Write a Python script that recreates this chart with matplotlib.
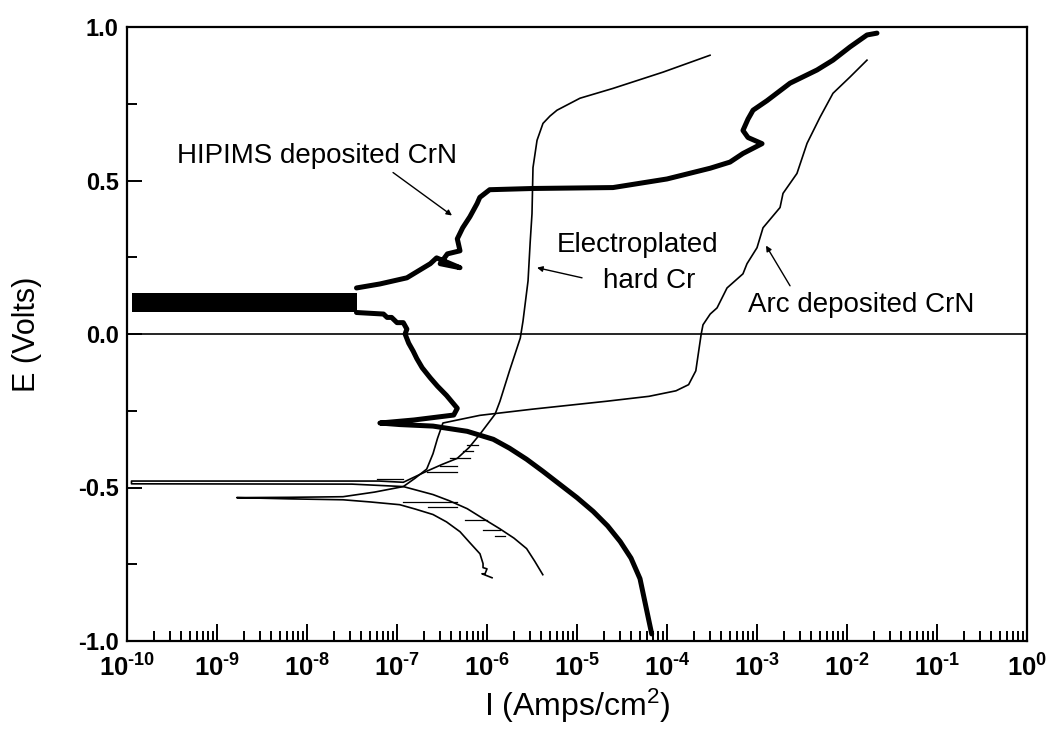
import matplotlib
matplotlib.use('Agg')
import matplotlib.pyplot as plt
import numpy as np
from matplotlib.ticker import FixedLocator, LogLocator, FuncFormatter, NullFormatter

plt.rcParams['font.family'] = ['Liberation Sans', 'DejaVu Sans']
plt.rcParams['mathtext.fontset'] = 'custom'
plt.rcParams['mathtext.rm'] = 'Liberation Sans:bold'
plt.rcParams['mathtext.sf'] = 'Liberation Sans'
plt.rcParams['mathtext.default'] = 'rm'
plt.rcParams['axes.unicode_minus'] = False

# polarisation curves, current density given as log10(A/cm2), potential in V
hipims_low_logi = [-4.17, -4.24, -4.30, -4.40, -4.52, -4.66, -4.82, -5.0, -5.19, -5.38,
                   -5.56, -5.75, -5.93, -6.22, -6.6, -6.97, -7.19, -6.81, -6.37, -6.33,
                   -6.45, -6.55, -6.63, -6.72, -6.78, -6.82, -6.87, -6.91, -6.89, -6.93,
                   -7.0, -7.06, -7.11, -7.15, -7.45]
hipims_low_e = [-0.977, -0.88, -0.797, -0.73, -0.676, -0.625, -0.578, -0.533, -0.49, -0.447,
                -0.408, -0.372, -0.343, -0.317, -0.30, -0.295, -0.29, -0.28, -0.264, -0.242,
                -0.2, -0.17, -0.143, -0.11, -0.08, -0.056, -0.03, 0.0, 0.016, 0.037,
                0.037, 0.054, 0.054, 0.065, 0.07]

hipims_high_logi = [-7.45, -7.19, -6.89, -6.63, -6.56, -6.3, -6.52, -6.44, -6.3, -6.33,
                    -6.27, -6.19, -6.11, -6.08, -5.97, -5.49, -4.6, -4.0, -3.52, -3.3,
                    -3.156, -2.944, -3.1, -3.156, -3.1, -3.044, -2.889, -2.633, -2.333,
                    -2.156, -1.967, -1.778, -1.667]
hipims_high_e = [0.150, 0.163, 0.183, 0.229, 0.248, 0.216, 0.229, 0.261, 0.271, 0.31,
                 0.346, 0.382, 0.425, 0.445, 0.47, 0.474, 0.477, 0.505, 0.54, 0.56,
                 0.588, 0.62, 0.64, 0.663, 0.70, 0.729, 0.76, 0.817, 0.86,
                 0.892, 0.935, 0.974, 0.98]

# noisy region near open circuit for the HIPIMS film
hipims_band_logi = [-9.94, -7.45]
hipims_band_lo = [0.073, 0.073]
hipims_band_hi = [0.135, 0.135]

cr_logi = [-5.38, -5.47, -5.56, -5.7, -5.86, -6.05, -6.22, -6.42, -6.6, -6.93, -7.5,
           -9.95, -9.95, -7.2, -6.93, -6.67, -6.5, -6.33, -6.2, -6.08, -5.91, -5.856,
           -5.75, -5.63, -5.6, -5.544, -5.52, -5.5, -5.489, -5.444, -5.378, -5.3,
           -5.222, -4.967, -4.6, -4.044, -3.522]
cr_e = [-0.784, -0.74, -0.699, -0.665, -0.634, -0.600, -0.569, -0.543, -0.523, -0.497, -0.489,
        -0.488, -0.479, -0.479, -0.483, -0.447, -0.425, -0.405, -0.37, -0.327, -0.261, -0.219,
        -0.12, -0.013, 0.042, 0.173, 0.3, 0.392, 0.542, 0.631, 0.686, 0.71,
        0.729, 0.768, 0.80, 0.853, 0.908]

# short horizontal noise strokes on the hard Cr curve: E, start, end
cr_noise_e = [-0.471, -0.448, -0.431, -0.405, -0.382, -0.36, -0.546, -0.565, -0.605, -0.637, -0.657]
cr_noise_start = [-7.22, -6.67, -6.52, -6.41, -6.27, -6.22, -6.93, -6.66, -6.24, -6.04, -5.91]
cr_noise_end = [-6.93, -6.33, -6.33, -6.19, -6.16, -6.10, -6.33, -6.33, -6.0, -5.86, -5.8]

arc_logi = [-5.944, -6.056, -6.022, -6.0, -6.044, -6.044, -6.078, -6.19, -6.3, -6.45, -6.6,
            -6.8, -6.97, -7.3, -7.6, -8.2, -8.78, -8.2, -7.6, -7.25, -6.93, -6.8, -6.67,
            -6.6, -6.55, -6.49, -6.08, -5.5, -4.67, -4.2, -3.9, -3.76, -3.68, -3.65, -3.62,
            -3.6, -3.52, -3.444, -3.333, -3.156, -3.111, -3.0, -2.933, -2.744, -2.711,
            -2.556, -2.444, -2.3, -2.156, -1.967, -1.778]
arc_e = [-0.794, -0.781, -0.781, -0.765, -0.761, -0.748, -0.716, -0.68, -0.644, -0.612, -0.588,
         -0.57, -0.556, -0.547, -0.54, -0.537, -0.533, -0.532, -0.53, -0.515, -0.497, -0.47, -0.44,
         -0.39, -0.34, -0.29, -0.265, -0.245, -0.219, -0.203, -0.185, -0.165, -0.12, -0.06, 0.0,
         0.03, 0.065, 0.085, 0.15, 0.196, 0.229, 0.281, 0.346, 0.412, 0.458,
         0.523, 0.621, 0.706, 0.784, 0.837, 0.892]

x_major = [1e-10, 1e-9, 1e-8, 1e-7, 1e-6, 1e-5, 1e-4, 1e-3, 1e-2, 1e-1, 1e0]
y_major = [-1.0, -0.5, 0.0, 0.5, 1.0]
y_minor = [-0.75, -0.25, 0.25, 0.75]


def amps(logi):
    return 10.0 ** np.asarray(logi)


def decade_label(v, pos):
    n = int(round(np.log10(v)))
    if n < 0:
        return r'$10^{\text{-%d}}$' % (-n)
    return r'$10^{%d}$' % n


fig = plt.figure(figsize=(10.46, 7.42), dpi=100)
ax = fig.add_axes([127 / 1046, 1 - 641 / 742, 900 / 1046, 614 / 742])

ax.axhline(0.0, color='black', lw=1.2, zorder=1)

ax.fill_between(amps(hipims_band_logi), hipims_band_lo, hipims_band_hi, color='black', lw=0, zorder=3)
ax.plot(amps(hipims_low_logi), hipims_low_e, color='black', lw=3.6,
        solid_capstyle='round', solid_joinstyle='round', zorder=3)
ax.plot(amps(hipims_high_logi), hipims_high_e, color='black', lw=3.6,
        solid_capstyle='round', solid_joinstyle='round', zorder=3)

ax.plot(amps(cr_logi), cr_e, color='black', lw=1.2, zorder=2)
for e, a, b in zip(cr_noise_e, cr_noise_start, cr_noise_end):
    ax.plot(amps([a, b]), [e, e], color='black', lw=0.9, zorder=2)

ax.plot(amps(arc_logi), arc_e, color='black', lw=1.2, zorder=2)

ax.set_xscale('log')
ax.set_xlim(1e-10, 1)
ax.set_ylim(-1, 1)

ax.xaxis.set_major_locator(FixedLocator(x_major))
ax.xaxis.set_minor_locator(LogLocator(base=10, subs=np.arange(2, 10), numticks=20))
ax.xaxis.set_minor_formatter(NullFormatter())
ax.xaxis.set_major_formatter(FuncFormatter(decade_label))
ax.yaxis.set_major_locator(FixedLocator(y_major))
ax.yaxis.set_minor_locator(FixedLocator(y_minor))
ax.yaxis.set_major_formatter(FuncFormatter(lambda v, p: '%.1f' % v))

ax.tick_params(which='both', direction='in', top=False, right=False, width=1.4, labelsize=17)
ax.tick_params(axis='x', which='major', length=12, pad=10, labelsize=18.5)
ax.tick_params(axis='x', which='minor', length=7)
ax.tick_params(axis='y', which='major', length=11, pad=6)
ax.tick_params(axis='y', which='minor', length=7)
for lbl in ax.get_yticklabels():
    lbl.set_fontweight('bold')
for s in ax.spines.values():
    s.set_linewidth(1.6)

ax.set_xlabel(r'I (Amps/cm$^{\mathsf{2}}$)', fontsize=23)
ax.xaxis.set_label_coords(0.5, -0.105)
ax.xaxis.label.set_va('center')
ax.set_ylabel('E (Volts)', fontsize=22)
ax.yaxis.set_label_coords(-0.111, 0.5)
ax.yaxis.label.set_va('center')

ax.text(10 ** -9.444, 0.557, 'HIPIMS deposited CrN', fontsize=20, va='baseline')
ax.text(10 ** -5.222, 0.267, 'Electroplated', fontsize=20, va='baseline')
ax.text(10 ** -4.711, 0.150, 'hard Cr', fontsize=20, va='baseline')
ax.text(10 ** -3.1, 0.072, 'Arc deposited CrN', fontsize=20, va='baseline')

arrow = dict(arrowstyle='-|>', color='black', lw=1.0, mutation_scale=8, shrinkA=0, shrinkB=0)
ax.annotate('', xy=(10 ** -6.389, 0.386), xytext=(10 ** -7.044, 0.526), arrowprops=arrow)
ax.annotate('', xy=(10 ** -5.444, 0.216), xytext=(10 ** -4.944, 0.183), arrowprops=arrow)
ax.annotate('', xy=(10 ** -2.9, 0.288), xytext=(10 ** -2.633, 0.157), arrowprops=arrow)

fig.savefig('out.png', dpi=100)
